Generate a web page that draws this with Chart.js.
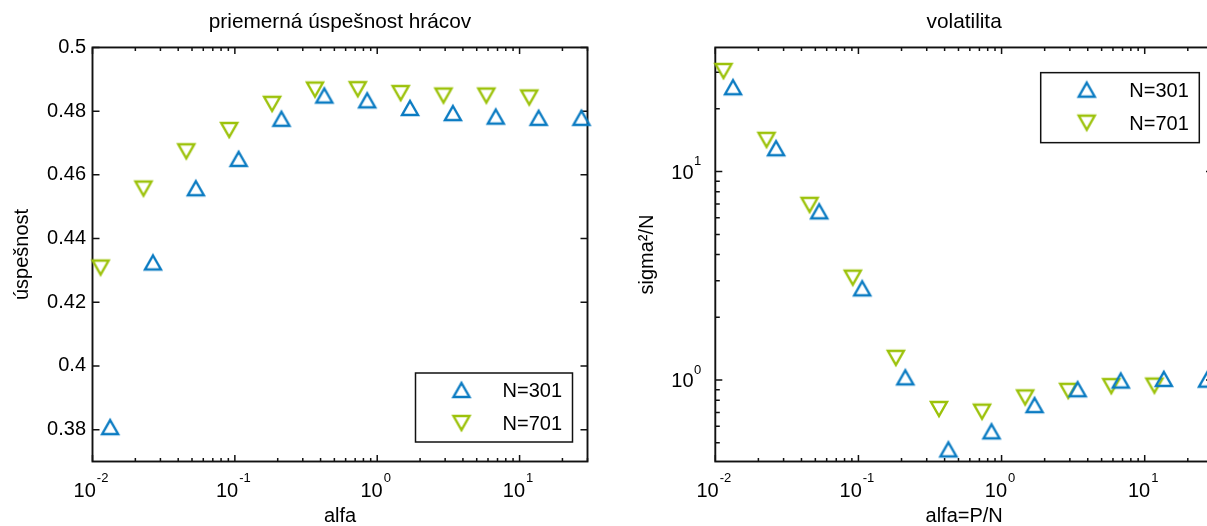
<!DOCTYPE html>
<html>
<head>
<meta charset="utf-8">
<script src="https://cdn.jsdelivr.net/npm/chart.js@4.4.1/dist/chart.umd.min.js"></script>
<style>
  html, body { margin: 0; padding: 0; background: #fff; }
  body { position: relative; width: 1207px; height: 526px; overflow: hidden; }
  canvas { position: absolute; top: 0; }
  #success { left: 0; }
  #volatility { left: 600px; }
</style>
</head>
<body>
<canvas id="success" width="600" height="526"></canvas>
<canvas id="volatility" width="626" height="526"></canvas>
<script>
// ---- data -------------------------------------------------------------
const seriesLabels = ['N=301', 'N=701'];

// alfa = P/N for both system sizes
const alfaN301 = [0.0133, 0.0266, 0.0532, 0.1063, 0.2126, 0.4252, 0.8505, 1.701, 3.402, 6.804, 13.61, 27.22];
const alfaN701 = [0.0114, 0.0228, 0.0456, 0.0913, 0.1826, 0.3652, 0.7304, 1.461, 2.921, 5.843, 11.69];

// average player success rate
const successN301 = [0.3808, 0.4325, 0.4558, 0.4650, 0.4776, 0.4849, 0.4834, 0.4810, 0.4794, 0.4783, 0.4779, 0.4779];
const successN701 = [0.4309, 0.4557, 0.4674, 0.4741, 0.4823, 0.4868, 0.4869, 0.4857, 0.4849, 0.4849, 0.4843];

// volatility sigma^2/N
const volatilityN301 = [25.4, 12.95, 6.45, 2.755, 1.031, 0.465, 0.568, 0.759, 0.904, 0.995, 1.013, 1.005];
const volatilityN701 = [30.4, 14.2, 6.93, 3.10, 1.279, 0.727, 0.706, 0.826, 0.888, 0.936, 0.941];

// axis ticks
const successTicks = [0.38, 0.40, 0.42, 0.44, 0.46, 0.48, 0.50];
const successTickLabels = ['0.38', '0.4', '0.42', '0.44', '0.46', '0.48', '0.5'];
const logBase = '10';
const alfaDecades = [0.01, 0.1, 1, 10];
const alfaExponents = ['-2', '-1', '0', '1'];
const volatilityDecades = [1, 10];
const volatilityExponents = ['0', '1'];

// ---- styling ----------------------------------------------------------
const FAMILY = '"Liberation Sans", Arial, Helvetica, sans-serif';
const TEXT = '#000';
const AXIS = '#111';
const BLUE = '#0a7bc2';
const GREEN = '#9cc20a';
const BASE_FONT = '20px ' + FAMILY;
const EXP_FONT = '13px ' + FAMILY;

// hollow triangle markers, centred on their bounding box
function triangleMarker(color, down) {
  const w = 16, h = 14, pad = 4;
  const c = document.createElement('canvas');
  c.width = w + 2 * pad;
  c.height = h + 2 * pad;
  const g = c.getContext('2d');
  g.strokeStyle = color;
  g.lineWidth = 2.4;
  g.lineJoin = 'miter';
  g.beginPath();
  if (down) {
    g.moveTo(pad, pad);
    g.lineTo(pad + w, pad);
    g.lineTo(pad + w / 2, pad + h);
  } else {
    g.moveTo(pad + w / 2, pad);
    g.lineTo(pad + w, pad + h);
    g.lineTo(pad, pad + h);
  }
  g.closePath();
  g.stroke();
  return c;
}
const markerUp = triangleMarker(BLUE, false);
const markerDown = triangleMarker(GREEN, true);

function points(xs, ys) {
  return xs.map((x, i) => ({ x: x, y: ys[i] }));
}

// decade ticks carry an exponent label, the 2..9 multiples are minor ticks
function logTicks(decades, exponents, min, max) {
  const ticks = decades.map((v, i) => ({ value: v, major: true, exponent: exponents[i] }));
  const k0 = Math.floor(Math.log10(min));
  const k1 = Math.floor(Math.log10(max));
  for (let k = k0; k <= k1; k++) {
    for (let m = 2; m <= 9; m++) {
      const v = m * Math.pow(10, k);
      if (v >= min && v <= max) ticks.push({ value: v, major: false });
    }
  }
  return ticks.sort((a, b) => a.value - b.value);
}

// ---- plugins ----------------------------------------------------------
// box around the plot area with inward ticks on all four sides
const frameTicks = {
  id: 'frameTicks',
  beforeDatasetsDraw(chart) {
    const { ctx, chartArea: a } = chart;
    const x = chart.scales.x, y = chart.scales.y;
    ctx.save();
    ctx.strokeStyle = AXIS;
    ctx.lineWidth = 1.5;
    ctx.beginPath();
    x.ticks.forEach(t => {
      const p = x.getPixelForValue(t.value);
      const len = t.major ? 6.5 : 3.5;
      ctx.moveTo(p, a.bottom); ctx.lineTo(p, a.bottom - len);
      ctx.moveTo(p, a.top); ctx.lineTo(p, a.top + len);
    });
    y.ticks.forEach(t => {
      const p = y.getPixelForValue(t.value);
      const len = t.major ? 7 : 4.5;
      ctx.moveTo(a.left, p); ctx.lineTo(a.left + len, p);
      ctx.moveTo(a.right, p); ctx.lineTo(a.right - len, p);
    });
    ctx.stroke();
    ctx.lineWidth = 1.9;
    ctx.strokeRect(a.left, a.top, a.right - a.left, a.bottom - a.top);
    ctx.restore();
  }
};

// "10" with a raised exponent for the decade ticks of log axes
const powerLabels = {
  id: 'powerLabels',
  afterDraw(chart) {
    const { ctx, chartArea: a } = chart;
    ctx.save();
    ctx.fillStyle = TEXT;
    ctx.textBaseline = 'alphabetic';
    ['x', 'y'].forEach(id => {
      const s = chart.scales[id];
      if (s.type !== 'logarithmic') return;
      s.ticks.forEach(t => {
        if (t.exponent === undefined) return;
        const p = s.getPixelForValue(t.value);
        ctx.font = BASE_FONT;
        const wb = ctx.measureText(logBase).width;
        ctx.font = EXP_FONT;
        const we = ctx.measureText(t.exponent).width;
        if (s.isHorizontal()) {
          const x0 = p - 1.5 - (wb + 1 + we) / 2;
          ctx.textAlign = 'left';
          ctx.font = BASE_FONT;
          ctx.fillText(logBase, x0, a.bottom + 35.5);
          ctx.font = EXP_FONT;
          ctx.fillText(t.exponent, x0 + wb + 1, a.bottom + 20.5);
        } else {
          const xr = a.left - 14;
          ctx.textAlign = 'right';
          ctx.font = EXP_FONT;
          ctx.fillText(t.exponent, xr, p - 6.5);
          ctx.font = BASE_FONT;
          ctx.fillText(logBase, xr - we - 0.5, p + 7);
        }
      });
    });
    ctx.restore();
  }
};

// framed legend inside the plot area
const boxLegend = {
  id: 'boxLegend',
  afterDraw(chart, args, opts) {
    const { ctx, chartArea: a } = chart;
    const w = opts.width, h = opts.height;
    const left = a.right - opts.right - w;
    const top = opts.top !== undefined ? a.top + opts.top : a.bottom - opts.bottom - h;
    ctx.save();
    ctx.fillStyle = '#fff';
    ctx.fillRect(left, top, w, h);
    ctx.strokeStyle = AXIS;
    ctx.lineWidth = 1.5;
    ctx.strokeRect(left, top, w, h);
    const rows = [top + 17, top + 50];
    chart.data.datasets.forEach((ds, i) => {
      const img = ds.pointStyle;
      ctx.drawImage(img, left + 46 - img.width / 2, rows[i] - img.height / 2);
      ctx.fillStyle = TEXT;
      ctx.font = BASE_FONT;
      ctx.textAlign = 'right';
      ctx.textBaseline = 'middle';
      ctx.fillText(ds.label, left + w - 10.5, rows[i] + 1.5);
    });
    ctx.restore();
  }
};

// ---- charts -----------------------------------------------------------
function font(lineHeight, size) {
  return { family: FAMILY, size: size || 20, weight: 'normal', lineHeight: lineHeight };
}

function dataset(label, xs, ys, marker) {
  return {
    label: label,
    data: points(xs, ys),
    pointStyle: marker,
    pointRadius: 9,
    pointHoverRadius: 9,
    showLine: false,
    clip: false
  };
}

function baseOptions(title, legendPos, padRight) {
  return {
    responsive: false,
    animation: false,
    devicePixelRatio: 1,
    events: [],
    layout: { padding: { left: 0, right: padRight, top: 0, bottom: 0 } },
    plugins: {
      legend: { display: false },
      tooltip: { enabled: false },
      title: {
        display: true,
        fullSize: false,
        text: title,
        color: TEXT,
        font: font(1.2, 20.8),
        padding: { top: 10, bottom: 12.5 }
      },
      boxLegend: legendPos
    }
  };
}

function logX(label) {
  return {
    type: 'logarithmic',
    min: 0.01,
    max: 30,
    grid: { display: false, drawTicks: false },
    border: { display: false },
    ticks: { display: false },
    afterBuildTicks: s => { s.ticks = logTicks(alfaDecades, alfaExponents, 0.01, 30); },
    afterFit: s => { s.height = 64.5; },
    title: { display: true, text: label, color: TEXT, font: font(1), padding: { top: 0, bottom: 0 } }
  };
}

// average success
const successOptions = baseOptions('priemerná úspešnost hrácov', { right: 15, bottom: 19.5, width: 157, height: 69 }, 12.5);
successOptions.scales = {
  x: logX('alfa'),
  y: {
    type: 'linear',
    min: 0.37,
    max: 0.5,
    grid: { display: false, drawTicks: false },
    border: { display: false },
    ticks: {
      color: TEXT,
      font: font(1.2),
      padding: 6.5,
      autoSkip: false,
      callback: (v, i) => successTickLabels[i]
    },
    afterBuildTicks: s => { s.ticks = successTicks.map(v => ({ value: v, major: true })); },
    afterFit: s => { s.width = 92.5; },
    title: { display: true, text: 'úspešnost', color: TEXT, font: font(1), padding: { top: 12, bottom: 0 } }
  }
};

new Chart(document.getElementById('success'), {
  type: 'scatter',
  data: {
    datasets: [
      dataset(seriesLabels[0], alfaN301, successN301, markerUp),
      dataset(seriesLabels[1], alfaN701, successN701, markerDown)
    ]
  },
  options: successOptions,
  plugins: [frameTicks, powerLabels, boxLegend]
});

// volatility
const volatilityOptions = baseOptions('volatilita', { right: 13.7, top: 25.2, width: 158.6, height: 70 }, 13);
volatilityOptions.scales = {
  x: logX('alfa=P/N'),
  y: {
    type: 'logarithmic',
    min: 0.407,
    max: 39.4,
    grid: { display: false, drawTicks: false },
    border: { display: false },
    ticks: { display: false },
    afterBuildTicks: s => { s.ticks = logTicks(volatilityDecades, volatilityExponents, 0.407, 39.4); },
    afterFit: s => { s.width = 115.3; },
    title: { display: true, text: 'sigma²/N', color: TEXT, font: font(1), padding: { top: 37, bottom: 0 } }
  }
};

new Chart(document.getElementById('volatility'), {
  type: 'scatter',
  data: {
    datasets: [
      dataset(seriesLabels[0], alfaN301, volatilityN301, markerUp),
      dataset(seriesLabels[1], alfaN701, volatilityN701, markerDown)
    ]
  },
  options: volatilityOptions,
  plugins: [frameTicks, powerLabels, boxLegend]
});
</script>
</body>
</html>
